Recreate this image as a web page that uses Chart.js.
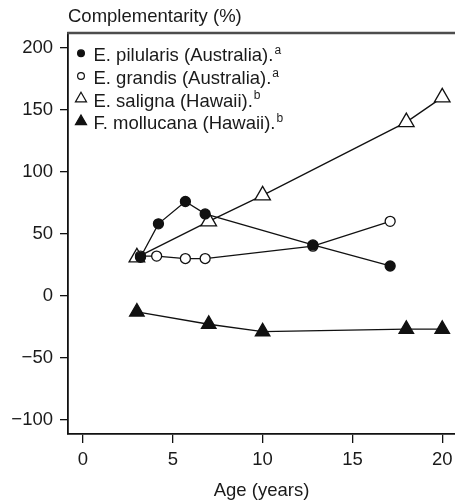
<!DOCTYPE html>
<html>
<head>
<meta charset="utf-8">
<title>Complementarity by stand age</title>
<script src="https://cdn.jsdelivr.net/npm/chart.js@4/dist/chart.umd.min.js"></script>
<style>
  html, body { margin: 0; padding: 0; background: #fff; overflow: hidden; }
  canvas { display: block; }
</style>
</head>
<body>
<canvas id="chart" width="455" height="503"></canvas>
<script>
// Complementarity (%) vs stand age for four mixed-species plantings
const pilularisAge = [3.2, 4.2, 5.7, 6.8, 12.8, 17.1];
const pilularisComp = [31, 58, 76, 66, 41, 24];

const grandisAge = [3.2, 4.1, 5.7, 6.8, 12.8, 17.1];
const grandisComp = [32, 32, 30, 30, 40, 60];

const salignaAge = [3, 7, 10, 18, 20];
const salignaComp = [31, 60, 81, 140, 160];

const mollucanaAge = [3, 7, 10, 18, 20];
const mollucanaComp = [-13, -23, -29, -27, -27];

const seriesNames = ['E. pilularis (Australia).', 'E. grandis (Australia).', 'E. saligna (Hawaii).', 'F. mollucana (Hawaii).'];
const seriesNotes = ['a', 'a', 'b', 'b'];

const xTicks = [0, 5, 10, 15, 20];
const yTicks = [-100, -50, 0, 50, 100, 150, 200];

const FONT = '"Liberation Sans", Arial, Helvetica, sans-serif';
const INK = '#111';

const toPoints = (xs, ys) => xs.map((x, i) => ({ x, y: ys[i] }));

// marker styles per series: filled circle, open circle, open triangle, filled triangle
const markers = [
  { pointStyle: 'circle', fill: INK, radius: 5, legendRadius: 3.4 },
  { pointStyle: 'circle', fill: '#fff', radius: 5, legendRadius: 3.4 },
  { pointStyle: 'triangle', fill: '#fff', radius: 9, legendRadius: 6.4 },
  { pointStyle: 'triangle', fill: INK, radius: 8.4, legendRadius: 6.4 }
];

const seriesData = [
  toPoints(pilularisAge, pilularisComp),
  toPoints(grandisAge, grandisComp),
  toPoints(salignaAge, salignaComp),
  toPoints(mollucanaAge, mollucanaComp)
];

const datasets = seriesData.map((data, i) => ({
  label: seriesNames[i],
  data,
  order: i,
  showLine: true,
  borderColor: INK,
  borderWidth: 1.3,
  tension: 0,
  pointStyle: markers[i].pointStyle,
  pointRadius: markers[i].radius,
  pointHoverRadius: markers[i].radius,
  pointBackgroundColor: markers[i].fill,
  pointBorderColor: INK,
  pointBorderWidth: 1.3,
  clip: false
}));

// ─── Frame, y title and legend ───────────────────────────────────────────────
const decorations = {
  id: 'decorations',
  afterDraw(chart) {
    const { ctx, chartArea: a } = chart;
    ctx.save();

    // top rule of the box
    ctx.strokeStyle = '#4d4d4d';
    ctx.lineWidth = 2.4;
    ctx.beginPath();
    ctx.moveTo(a.left - 0.8, a.top);
    ctx.lineTo(a.right, a.top);
    ctx.stroke();

    // y axis title, written horizontally above the box
    ctx.fillStyle = '#1a1a1a';
    ctx.font = `18.5px ${FONT}`;
    ctx.textAlign = 'left';
    ctx.textBaseline = 'alphabetic';
    ctx.fillText('Complementarity (%)', a.left, 21.7);

    // legend
    const markerX = 81;
    const textX = 93.5;
    seriesNames.forEach((name, i) => {
      const base = 61.3 + i * 22.7;
      const m = markers[i];
      ctx.fillStyle = m.fill;
      ctx.strokeStyle = INK;
      ctx.lineWidth = 1.2;
      Chart.helpers.drawPoint(ctx, {
        pointStyle: m.pointStyle,
        radius: m.legendRadius,
        rotation: 0,
        borderWidth: 1.2
      }, markerX, base - 8);

      ctx.fillStyle = '#1a1a1a';
      ctx.font = `18.5px ${FONT}`;
      ctx.fillText(name, textX, base);
      const w = ctx.measureText(name).width;
      ctx.font = `12px ${FONT}`;
      ctx.fillText(seriesNotes[i], textX + w + 1, base - 7.5);
    });

    ctx.restore();
  }
};

const axisFont = { family: FONT, size: 18.5 };

new Chart(document.getElementById('chart'), {
  type: 'scatter',
  data: { datasets },
  plugins: [decorations],
  options: {
    responsive: false,
    animation: false,
    events: [],
    layout: { autoPadding: false, padding: { left: 0, top: 33, right: 0, bottom: 0 } },
    plugins: {
      legend: { display: false },
      tooltip: { enabled: false },
      title: { display: false }
    },
    scales: {
      x: {
        type: 'linear',
        min: -0.835,
        max: 20.71,
        afterBuildTicks: s => { s.ticks = xTicks.map(v => ({ value: v })); },
        afterFit: s => { s.height = 69; s.paddingLeft = 0; s.paddingRight = 0; },
        ticks: { color: '#1a1a1a', font: axisFont, padding: 6, maxRotation: 0, callback: v => String(v) },
        grid: { drawOnChartArea: false, drawTicks: true, tickLength: 9, color: INK, lineWidth: 1.3 },
        border: { display: true, color: INK, width: 1.8 },
        title: { display: true, text: 'Age (years)', color: '#1a1a1a', font: axisFont, padding: { top: 0, bottom: 1 } }
      },
      y: {
        type: 'linear',
        min: -111.5,
        max: 211.9,
        afterBuildTicks: s => { s.ticks = yTicks.map(v => ({ value: v })); },
        afterFit: s => { s.width = 68; s.paddingTop = 0; s.paddingBottom = 0; },
        ticks: {
          color: '#1a1a1a',
          font: axisFont,
          padding: 7,
          callback: v => (v < 0 ? '\u2212' + Math.abs(v) : String(v))
        },
        grid: { drawOnChartArea: false, drawTicks: true, tickLength: 8, color: INK, lineWidth: 1.3 },
        border: { display: true, color: INK, width: 1.8 }
      }
    }
  }
});
</script>
</body>
</html>
